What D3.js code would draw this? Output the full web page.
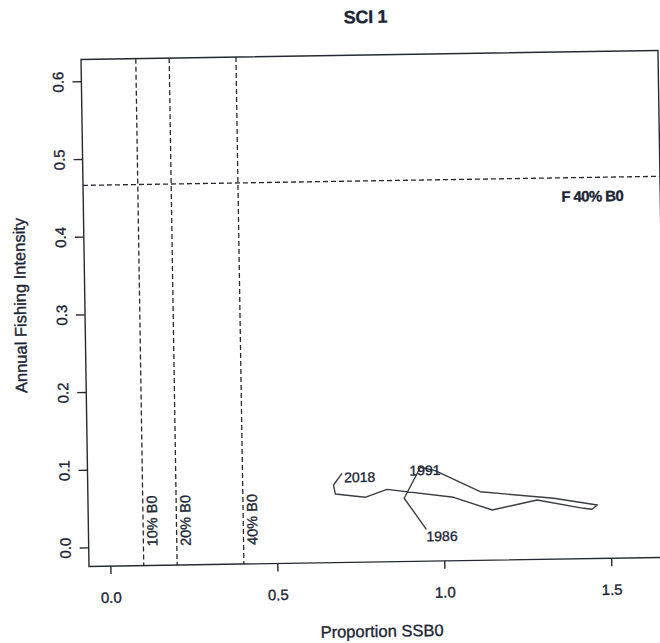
<!DOCTYPE html>
<html>
<head>
<meta charset="utf-8">
<script src="https://cdn.jsdelivr.net/npm/d3@7"></script>
<style>
  html, body { margin: 0; padding: 0; background: #ffffff; }
  svg { display: block; }
  text { font-family: "Liberation Sans", Arial, sans-serif; fill: #1c2535; stroke: #1c2535; stroke-width: 0.35px; }
</style>
</head>
<body>
<svg id="chart" width="660" height="643"></svg>
<script>
// Stock trajectory: proportion of unfished spawning biomass vs annual fishing intensity
const ssbProportion = [0.948, 0.883, 0.933, 0.977, 1.111, 1.331, 1.461, 1.445, 1.420,
                       1.281, 1.146, 1.031, 0.832, 0.766, 0.677, 0.672, 0.698];
const fishingIntensity = [0.0165, 0.0569, 0.0964, 0.0918, 0.0638, 0.0538, 0.0443, 0.0389, 0.0403,
                          0.0520, 0.0400, 0.0571, 0.0687, 0.0589, 0.0637, 0.0754, 0.0902];
const yearLabels = ["1986", "", "1991", "", "", "", "", "", "",
                    "", "", "", "", "", "", "", "2018"];

// Reference biomass levels (vertical) and target fishing intensity (horizontal)
const refBiomass = [0.1, 0.2, 0.4];
const refBiomassLabels = ["10% B0", "20% B0", "40% B0"];
const refFishing = 0.466;
const refFishingLabel = "F 40% B0";

const xTicks = [0.0, 0.5, 1.0, 1.5];
const yTicks = [0.0, 0.1, 0.2, 0.3, 0.4, 0.5, 0.6];

const titleText = "SCI 1";
const xTitle = "Proportion SSB0";
const yTitle = "Annual Fishing Intensity";

const box = { left: 85, right: 662, top: 55, bottom: 562 };

const x = d3.scaleLinear().domain([-0.064, 1.664]).range([box.left, box.right]);
const y = d3.scaleLinear().domain([-0.0245, 0.628]).range([box.bottom, box.top]);

const svg = d3.select("#chart");
svg.append("rect").attr("width", 660).attr("height", 643).attr("fill", "#ffffff");

// the whole page sits slightly tilted
const g = svg.append("g").attr("transform", "rotate(-0.9 370 310)");

const ink = "#262a30";
const tickInk = "#1c2a45";

// plot frame
g.append("rect")
  .attr("x", box.left).attr("y", box.top)
  .attr("width", box.right - box.left).attr("height", box.bottom - box.top)
  .attr("fill", "none").attr("stroke", ink).attr("stroke-width", 1.4);

// x axis
const xAxis = g.append("g")
  .attr("transform", `translate(0,${box.bottom})`)
  .call(d3.axisBottom(x).tickValues(xTicks).tickSize(8).tickPadding(18).tickFormat(d3.format(".1f")));
xAxis.select(".domain").remove();
xAxis.selectAll(".tick line").attr("stroke", ink).attr("stroke-width", 1.4);
xAxis.selectAll(".tick text")
  .attr("font-size", 15).attr("fill", tickInk).attr("stroke", tickInk)
  .attr("font-family", "\"Liberation Sans\", Arial, sans-serif");

// y axis, labels turned to read upward
const yAxis = g.append("g")
  .attr("transform", `translate(${box.left},0)`)
  .call(d3.axisLeft(y).tickValues(yTicks).tickSize(9).tickFormat(d3.format(".1f")));
yAxis.select(".domain").remove();
yAxis.selectAll(".tick line").attr("stroke", ink).attr("stroke-width", 1.4);
yAxis.selectAll(".tick text")
  .attr("font-size", 15).attr("fill", tickInk).attr("stroke", tickInk)
  .attr("font-family", "\"Liberation Sans\", Arial, sans-serif")
  .attr("x", null).attr("dy", null)
  .attr("text-anchor", "middle")
  .attr("transform", "translate(-18,0) rotate(-90)");

// reference lines
const dash = "5,3";
g.selectAll("line.vref").data(refBiomass).join("line")
  .attr("class", "vref")
  .attr("x1", d => x(d)).attr("x2", d => x(d))
  .attr("y1", box.top).attr("y2", box.bottom)
  .attr("stroke", ink).attr("stroke-width", 1.3).attr("stroke-dasharray", dash);

g.append("line")
  .attr("x1", box.left).attr("x2", box.right)
  .attr("y1", y(refFishing)).attr("y2", y(refFishing))
  .attr("stroke", ink).attr("stroke-width", 1.3).attr("stroke-dasharray", dash);

g.selectAll("text.vref").data(refBiomass).join("text")
  .attr("class", "vref")
  .attr("transform", d => `translate(${x(d) + 14},${y(0)}) rotate(-90)`)
  .attr("font-size", 14.5)
  .attr("text-anchor", "start")
  .text((d, i) => refBiomassLabels[i]);

g.append("text")
  .attr("x", 625).attr("y", y(refFishing) + 24)
  .attr("text-anchor", "end")
  .attr("font-size", 15)
  .attr("font-weight", "bold")
  .attr("letter-spacing", -0.6)
  .text(refFishingLabel);

// trajectory
const pts = ssbProportion.map((v, i) => [v, fishingIntensity[i]]);
g.append("path")
  .datum(pts)
  .attr("fill", "none")
  .attr("stroke", "#3a3d42")
  .attr("stroke-width", 1.4)
  .attr("stroke-linejoin", "round")
  .attr("d", d3.line().x(d => x(d[0])).y(d => y(d[1])));

const labelOffsets = { "1986": [0, 12], "1991": [-11, 8], "2018": [2, 9] };
g.selectAll("text.yr").data(pts.filter((d, i) => yearLabels[i]))
  .join("text")
  .attr("class", "yr")
  .attr("font-size", 14)
  .attr("fill", "#1c3344").attr("stroke", "#1c3344")
  .each(function (d) {
    const i = pts.indexOf(d);
    const off = labelOffsets[yearLabels[i]] || [0, 0];
    d3.select(this)
      .attr("x", x(d[0]) + off[0])
      .attr("y", y(d[1]) + off[1])
      .text(yearLabels[i]);
  });

// titles
g.append("text")
  .attr("x", 370).attr("y", 23)
  .attr("text-anchor", "middle")
  .attr("font-size", 18).attr("font-weight", "bold")
  .attr("letter-spacing", -0.3)
  .text(titleText);

g.append("text")
  .attr("x", 377).attr("y", 637)
  .attr("text-anchor", "middle")
  .attr("font-size", 16.5)
  .attr("fill", tickInk).attr("stroke", tickInk)
  .text(xTitle);

g.append("text")
  .attr("transform", "translate(26,300) rotate(-90)")
  .attr("text-anchor", "middle")
  .attr("font-size", 16.5)
  .text(yTitle);
</script>
</body>
</html>
